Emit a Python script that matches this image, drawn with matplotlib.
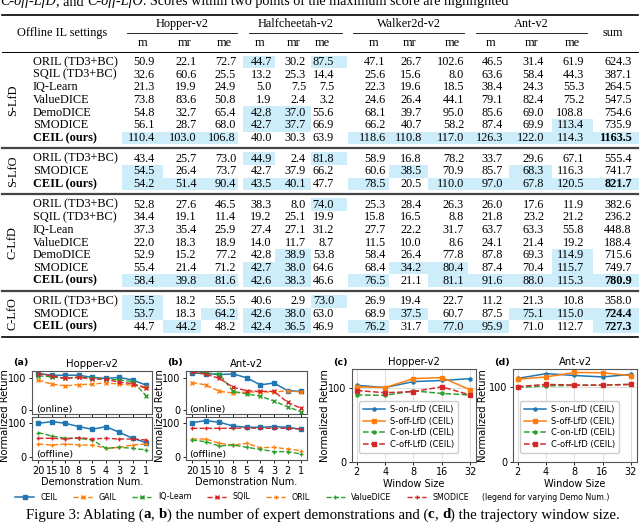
import numpy as np
import matplotlib
matplotlib.use("Agg")
import matplotlib.pyplot as plt
from matplotlib.patches import Rectangle

# ---- table data ----
cols = ["m", "mr", "me"]
envs = ["Hopper-v2", "Halfcheetah-v2", "Walker2d-v2", "Ant-v2"]

slfd_methods = ["ORIL (TD3+BC)", "SQIL (TD3+BC)", "IQ-Learn", "ValueDICE", "DemoDICE", "SMODICE", "CEIL (ours)"]
slfd_scores = [
    [50.9, 22.1, 72.7, 44.7, 30.2, 87.5, 47.1, 26.7, 102.6, 46.5, 31.4, 61.9, 624.3],
    [32.6, 60.6, 25.5, 13.2, 25.3, 14.4, 25.6, 15.6, 8.0, 63.6, 58.4, 44.3, 387.1],
    [21.3, 19.9, 24.9, 5.0, 7.5, 7.5, 22.3, 19.6, 18.5, 38.4, 24.3, 55.3, 264.5],
    [73.8, 83.6, 50.8, 1.9, 2.4, 3.2, 24.6, 26.4, 44.1, 79.1, 82.4, 75.2, 547.5],
    [54.8, 32.7, 65.4, 42.8, 37.0, 55.6, 68.1, 39.7, 95.0, 85.6, 69.0, 108.8, 754.6],
    [56.1, 28.7, 68.0, 42.7, 37.7, 66.9, 66.2, 40.7, 58.2, 87.4, 69.9, 113.4, 735.9],
    [110.4, 103.0, 106.8, 40.0, 30.3, 63.9, 118.6, 110.8, 117.0, 126.3, 122.0, 114.3, 1163.5],
]
slfd_hl = [[3, 5], [], [], [], [3, 4], [3, 4, 11], [0, 1, 2, 6, 7, 8, 9, 10, 11, 12]]
slfd_bold = [6]

slfo_methods = ["ORIL (TD3+BC)", "SMODICE", "CEIL (ours)"]
slfo_scores = [
    [43.4, 25.7, 73.0, 44.9, 2.4, 81.8, 58.9, 16.8, 78.2, 33.7, 29.6, 67.1, 555.4],
    [54.5, 26.4, 73.7, 42.7, 37.9, 66.2, 60.6, 38.5, 70.9, 85.7, 68.3, 116.3, 741.7],
    [54.2, 51.4, 90.4, 43.5, 40.1, 47.7, 78.5, 20.5, 110.0, 97.0, 67.8, 120.5, 821.7],
]
slfo_hl = [[3, 5], [0, 7, 10], [0, 1, 2, 3, 4, 6, 8, 9, 10, 11, 12]]
slfo_bold = [2]

clfd_methods = ["ORIL (TD3+BC)", "SQIL (TD3+BC)", "IQ-Lean", "ValueDICE", "DemoDICE", "SMODICE", "CEIL (ours)"]
clfd_scores = [
    [52.8, 27.6, 46.5, 38.3, 8.0, 74.0, 25.3, 28.4, 26.3, 26.0, 17.6, 11.9, 382.6],
    [34.4, 19.1, 11.4, 19.2, 25.1, 19.9, 15.8, 16.5, 8.8, 21.8, 23.2, 21.2, 236.2],
    [37.3, 35.4, 25.9, 27.4, 27.1, 31.2, 27.7, 22.2, 31.7, 63.7, 63.3, 55.8, 448.8],
    [22.0, 18.3, 18.9, 14.0, 11.7, 8.7, 11.5, 10.0, 8.6, 24.1, 21.4, 19.2, 188.4],
    [52.9, 15.2, 77.2, 42.8, 38.9, 53.8, 58.4, 26.4, 77.8, 87.8, 69.3, 114.9, 715.6],
    [55.4, 21.4, 71.2, 42.7, 38.0, 64.6, 68.4, 34.2, 80.4, 87.4, 70.4, 115.7, 749.7],
    [58.4, 39.8, 81.6, 42.6, 38.3, 46.6, 76.5, 21.1, 81.1, 91.6, 88.0, 115.3, 780.9],
]
clfd_hl = [[5], [], [], [], [4, 11], [3, 4, 7, 8, 11], [0, 1, 2, 3, 4, 6, 8, 9, 10, 11, 12]]
clfd_bold = [6]

clfo_methods = ["ORIL (TD3+BC)", "SMODICE", "CEIL (ours)"]
clfo_scores = [
    [55.5, 18.2, 55.5, 40.6, 2.9, 73.0, 26.9, 19.4, 22.7, 11.2, 21.3, 10.8, 358.0],
    [53.7, 18.3, 64.2, 42.6, 38.0, 63.0, 68.9, 37.5, 60.7, 87.5, 75.1, 115.0, 724.4],
    [44.7, 44.2, 48.2, 42.4, 36.5, 46.9, 76.2, 31.7, 77.0, 95.9, 71.0, 112.7, 727.3],
]
clfo_hl = [[0, 5], [0, 2, 3, 4, 7, 10, 11, 12], [1, 3, 4, 6, 8, 9, 12]]
clfo_bold = [1, 2]

# ---- ablation data ----
demo_nums = ["20", "15", "10", "8", "5", "4", "3", "2", "1"]
hop_on_ceil = [113, 108, 108, 108, 101, 98, 101, 93, 77]
hop_on_gail = [93, 80, 75, 79, 80, 85, 80, 77, 72]
hop_on_iql = [106, 103, 98, 103, 98, 96, 93, 88, 44]
hop_on_sqil = [113, 106, 98, 101, 96, 96, 86, 82, 67]
hop_off_ceil = [100, 105, 100, 90, 82, 90, 73, 55, 42]
hop_off_oril = [38, 35, 38, 35, 35, 25, 28, 35, 38]
hop_off_vdice = [72, 62, 55, 55, 50, 25, 28, 25, 20]
hop_off_smodice = [55, 55, 53, 57, 53, 55, 53, 53, 50]

ant_on_ceil = [115, 113, 110, 112, 100, 78, 84, 60, 58]
ant_on_gail = [85, 78, 58, 53, 56, 56, 56, 60, 56]
ant_on_iql = [118, 115, 111, 58, 50, 43, 28, 10, -5]
ant_on_sqil = [118, 111, 98, 71, 60, 58, 58, 24, 5]
ant_off_ceil = [102, 108, 103, 92, 88, 88, 90, 88, 82]
ant_off_oril = [53, 53, 40, 35, 40, 27, 28, 23, 18]
ant_off_vdice = [50, 45, 32, 35, 28, 22, 15, 15, 8]
ant_off_smodice = [85, 85, 85, 85, 86, 85, 85, 85, 83]

windows = [2, 4, 8, 16, 32]
hop_s_on = [103, 100, 108, 109.5, 112]
hop_s_off = [101, 100, 112, 113.5, 97]
hop_c_on = [90, 89.5, 95.5, 92, 90]
hop_c_off = [96, 93, 94.5, 101, 90]
ant_s_on = [112, 118.5, 116, 114, 117.5]
ant_s_off = [111, 114, 120, 119.7, 115.7]
ant_c_on = [100, 102, 102.7, 103, 104]
ant_c_off = [101, 104, 103, 103, 104]

SERIF = "Liberation Serif"
HL = "#cdedfb"
FS = 8.8

fig = plt.figure(figsize=(6.4, 5.28), dpi=100)
# full-figure overlay in pixel coords for the table and captions
ax_t = fig.add_axes([0, 0, 1, 1])
ax_t.set_xlim(0, 640)
ax_t.set_ylim(528, 0)
ax_t.axis("off")
renderer = fig.canvas.get_renderer()


def text_width(s, size, **kw):
    # width incl. edge spaces: measure with a guard char and subtract it
    t1 = ax_t.text(0, 0, s + "|", fontsize=size, family=SERIF, **kw)
    t2 = ax_t.text(0, 0, "|", fontsize=size, family=SERIF, **kw)
    w = t1.get_window_extent(renderer).width - t2.get_window_extent(renderer).width
    t1.remove()
    t2.remove()
    return w


def draw_runs(x, y, runs, size, center=False):
    widths = [text_width(s, size, **kw) for s, kw in runs]
    if center:
        x = x - sum(widths) / 2
    for (s, kw), w in zip(runs, widths):
        ax_t.text(x, y, s, fontsize=size, family=SERIF, va="baseline", ha="left", **kw)
        x += w


# top caption (cut off by the crop)
it = {"fontstyle": "italic"}
draw_runs(0, 5.5, [("C-off-LfD", it), (", and ", {}), ("C-off-LfO", it),
                   (". Scores within two points of the maximum score are highlighted", {})], 10.2)

# column geometry (pixels)
col_right = [155, 196.7, 236, 271.7, 306, 334, 385.7, 421.7, 464, 503, 544, 584, 631.7]
col_bounds = [(121.7, 162.7), (162.7, 201), (201, 238), (243.3, 275), (275, 310.5), (310.5, 347),
              (348.3, 389), (389, 428.3), (428.3, 468), (468, 509), (509, 552), (552, 592.7),
              (592.7, 639.3)]
grp_rule = [(126.7, 237.3), (249, 342), (353, 464), (476, 586.7)]
step = 12.67

ax_t.plot([2, 638], [14.5, 14.5], color="black", lw=1.2)
ax_t.text(62, 33.3, "Offline IL settings", family=SERIF, fontsize=FS, ha="center", va="center")
for g, env in enumerate(envs):
    l, r = grp_rule[g]
    ax_t.text((l + r) / 2, 24, env, family=SERIF, fontsize=FS, ha="center", va="center")
    ax_t.plot([l, r], [33.3, 33.3], color="black", lw=0.6)
    for k, c in enumerate(cols):
        ax_t.text(col_right[g * 3 + k] - 12, 42.5, c, family=SERIF, fontsize=FS, ha="center", va="center")
ax_t.text(613, 33.3, "sum", family=SERIF, fontsize=FS, ha="center", va="center")
ax_t.plot([2, 638], [52, 52], color="black", lw=0.7)


def draw_section(y0, label, methods, scores, hls, bolds):
    ys = [y0 + i * step for i in range(len(methods))]
    for i, (m, row, hl) in enumerate(zip(methods, scores, hls)):
        y = ys[i]
        for j in hl:
            l, r = col_bounds[j]
            ax_t.add_patch(Rectangle((l, y - step / 2), r - l, step, color=HL, lw=0, zorder=0))
        bold = "bold" if m.startswith("CEIL") else "normal"
        ax_t.text(33, y, m, family=SERIF, fontsize=FS, ha="left", va="center", fontweight=bold)
        for j, v in enumerate(row):
            w = "bold" if (j == 12 and i in bolds) else "normal"
            ax_t.text(col_right[j], y, f"{v:.1f}", family=SERIF, fontsize=FS, ha="right",
                      va="center", fontweight=w)
    ax_t.text(13, (ys[0] + ys[-1]) / 2, label, family=SERIF, fontsize=FS, rotation=90,
              ha="center", va="center")
    return ys[-1]


last = draw_section(62, "S-LfD", slfd_methods, slfd_scores, slfd_hl, slfd_bold)
ax_t.plot([2, 638], [last + 10, last + 10], color="#444444", lw=1.6)
last = draw_section(last + step + 8, "S-LfO", slfo_methods, slfo_scores, slfo_hl, slfo_bold)
ax_t.plot([2, 638], [last + 10, last + 10], color="#444444", lw=1.6)
last = draw_section(last + step + 8, "C-LfD", clfd_methods, clfd_scores, clfd_hl, clfd_bold)
ax_t.plot([2, 638], [last + 10, last + 10], color="#444444", lw=1.6)
last = draw_section(last + step + 8, "C-LfO", clfo_methods, clfo_scores, clfo_hl, clfo_bold)
ax_t.plot([2, 638], [last + 10, last + 10], color="black", lw=1.2)

# ---- ablation plots ----
C_BLUE, C_ORANGE, C_GREEN, C_RED = "#1f77b4", "#ff7f0e", "#2ca02c", "#d62728"


def px_axes(x0, x1, y0, y1):
    return fig.add_axes([x0 / 640, 1 - y1 / 528, (x1 - x0) / 640, (y1 - y0) / 528])


def style(ax):
    for s in ax.spines.values():
        s.set_color("#555555")
        s.set_linewidth(0.8)
    ax.tick_params(labelsize=7, length=2.5, width=0.6, pad=1.5)


x9 = np.arange(len(demo_nums))


def demo_panel(x0, x1, title, tag, on, off, ylab_x):
    top = px_axes(x0, x1, 371, 414.3)
    bot = px_axes(x0, x1, 417.3, 460)
    h = []
    h.append(top.plot(x9, on[0], "-s", color=C_BLUE, lw=1.1, ms=2.8, label="CEIL")[0])
    h.append(top.plot(x9, on[1], "--x", color=C_ORANGE, lw=1.0, ms=3, label="GAIL")[0])
    h.append(top.plot(x9, on[2], "--x", color=C_GREEN, lw=1.0, ms=3, label="IQ-Learn")[0])
    h.append(top.plot(x9, on[3], "--x", color=C_RED, lw=1.0, ms=3, label="SQIL")[0])
    bot.plot(x9, off[0], "-s", color=C_BLUE, lw=1.1, ms=2.8)
    h.append(bot.plot(x9, off[1], "--+", color=C_ORANGE, lw=1.0, ms=3.5, label="ORIL")[0])
    h.append(bot.plot(x9, off[2], "--+", color=C_GREEN, lw=1.0, ms=3.5, label="ValueDICE")[0])
    h.append(bot.plot(x9, off[3], "--+", color=C_RED, lw=1.0, ms=3.5, label="SMODICE")[0])
    top.set_ylim(-13, 121)
    bot.set_ylim(-10, 118)
    for a in (top, bot):
        style(a)
        a.set_xlim(-0.45, 8.4)
        a.set_xticks(x9)
        a.set_yticks([0, 100])
    top.set_xticklabels([])
    bot.set_xticklabels(demo_nums)
    bot.set_xlabel("Demonstration Num.", fontsize=7, labelpad=1)
    top.text(0.03, 0.06, "(online)", transform=top.transAxes, fontsize=6.8)
    bot.text(0.03, 0.06, "(offline)", transform=bot.transAxes, fontsize=6.8)
    top.set_title(title, fontsize=7.3, pad=3)
    fig.text((x0 - 19) / 640, 1 - 363 / 528, tag, fontsize=6.8, fontweight="bold", va="center")
    fig.text(ylab_x / 640, 1 - 415.5 / 528, "Normalized Return", fontsize=7.2, rotation=90,
             ha="center", va="center")
    return h


hs = demo_panel(32.3, 151.7, "Hopper-v2", "(a)",
                [hop_on_ceil, hop_on_gail, hop_on_iql, hop_on_sqil],
                [hop_off_ceil, hop_off_oril, hop_off_vdice, hop_off_smodice], 5)
demo_panel(186, 306.7, "Ant-v2", "(b)",
           [ant_on_ceil, ant_on_gail, ant_on_iql, ant_on_sqil],
           [ant_off_ceil, ant_off_oril, ant_off_vdice, ant_off_smodice], 160)


def window_panel(x0, x1, title, tag, s_on, s_off, c_on, c_off, ylab_x, ytop):
    ax = px_axes(x0, x1, 369, 461.7)
    ax.plot(windows, s_on, "-o", color=C_BLUE, lw=1.1, ms=2.2, label="S-on-LfD (CEIL)")
    ax.plot(windows, s_off, "-s", color=C_ORANGE, lw=1.1, ms=2.8, label="S-off-LfD (CEIL)")
    ax.plot(windows, c_on, "--o", color=C_GREEN, lw=1.1, ms=2.2, label="C-on-LfD (CEIL)")
    ax.plot(windows, c_off, "--s", color=C_RED, lw=1.1, ms=2.8, label="C-off-LfD (CEIL)")
    ax.set_xscale("log", base=2)
    ax.set_xlim(2 * 2 ** -0.16, 32 * 2 ** 0.21)
    ax.set_xticks(windows)
    ax.set_xticklabels([str(w) for w in windows])
    ax.minorticks_off()
    ax.set_ylim(0, ytop)
    ax.set_yticks([0, 100])
    ax.grid(True, color="#dddddd", lw=0.7)
    ax.set_axisbelow(True)
    style(ax)
    ax.set_xlabel("Window Size", fontsize=7, labelpad=1)
    ax.set_title(title, fontsize=7.3, pad=3)
    ax.legend(loc="lower left", bbox_to_anchor=(0.02, 0.05), fontsize=6.0, handlelength=2.6,
              handletextpad=0.6, labelspacing=0.3, borderpad=0.5, framealpha=1,
              edgecolor="#cccccc")
    fig.text((x0 - 19) / 640, 1 - 363 / 528, tag, fontsize=6.8, fontweight="bold", va="center")
    fig.text(ylab_x / 640, 1 - 415.5 / 528, "Normalized Return", fontsize=7.2, rotation=90,
             ha="center", va="center")


window_panel(352.3, 476, "Hopper-v2", "(c)", hop_s_on, hop_s_off, hop_c_on, hop_c_off, 325, 125)
window_panel(513.3, 636.7, "Ant-v2", "(d)", ant_s_on, ant_s_off, ant_c_on, ant_c_off, 483, 124.7)

fig.legend(handles=hs, loc="center left", bbox_to_anchor=(15 / 640, 1 - 497 / 528), ncol=7,
           fontsize=5.7, frameon=False, handlelength=2.4, columnspacing=2.0, handletextpad=0.8,
           borderpad=0, borderaxespad=0)
fig.text(482 / 640, 1 - 497 / 528, "(legend for varying Demo Num.)", fontsize=5.7, va="center")

bf = {"fontweight": "bold"}
draw_runs(323, 518.5, [("Figure 3: Ablating (", {}), ("a", bf), (", ", {}), ("b", bf),
                       (") the number of expert demonstrations and (", {}), ("c", bf), (", ", {}),
                       ("d", bf), (") the trajectory window size.", {})], 10.7, center=True)

fig.savefig("out.png", dpi=100)
